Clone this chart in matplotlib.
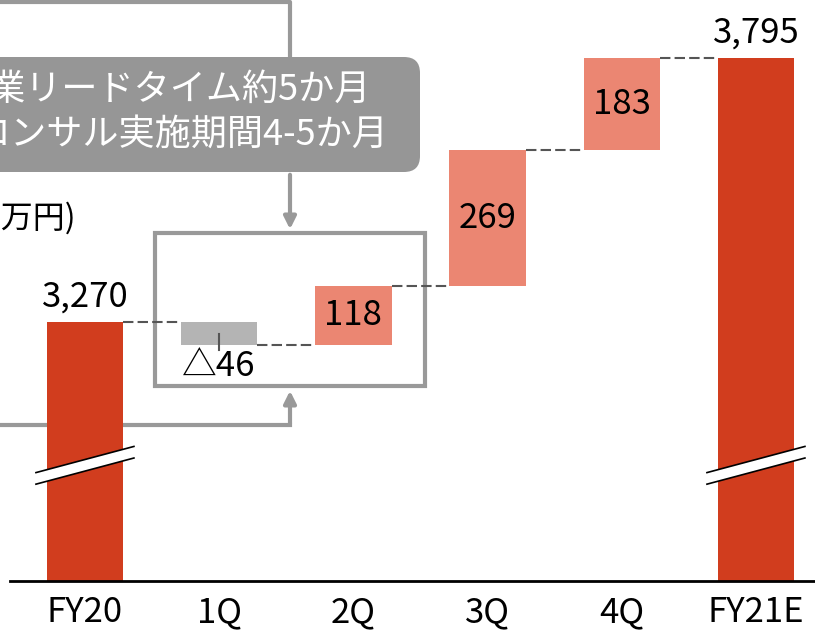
import matplotlib
matplotlib.use("Agg")
import matplotlib.pyplot as plt
from matplotlib.patches import FancyBboxPatch, Rectangle, Polygon

plt.rcParams['font.family'] = ['Noto Sans CJK JP', 'DejaVu Sans']

categories = ["FY20", "1Q", "2Q", "3Q", "4Q", "FY21E"]
start_total = 3270
deltas = [-46, 118, 269, 183]
end_total = 3795
delta_labels = ["△46", "118", "269", "183"]
note_lines = ["営業リードタイム約5か月", "コンサル実施期間4-5か月"]
unit_label = "(万円)"

W, H = 815, 633
RED = "#D13D1E"
SALMON = "#EB8672"
NEG = "#B4B4B4"
FRAME = "#999999"
FS = 25

fig = plt.figure(figsize=(W / 100, H / 100), dpi=100)

# overlay in pixel coordinates for the callout decorations
deco = fig.add_axes([0, 0, 1, 1], zorder=0)
deco.set_xlim(0, W)
deco.set_ylim(H, 0)
deco.axis("off")

ax = fig.add_axes([0, (H - 581) / H, 1, 581 / H], zorder=1)
ax.patch.set_alpha(0)
ax.set_xlim(-0.633, 5.44)
ax.set_ylim(2755, 3910)
for s in ["top", "right", "left"]:
    ax.spines[s].set_visible(False)
ax.spines["bottom"].set_bounds(-0.56, 5.44)
ax.spines["bottom"].set_linewidth(2)
ax.set_yticks([])
ax.set_xticks(range(len(categories)))
ax.set_xticklabels(categories, fontsize=FS)
ax.tick_params(axis="x", length=0, pad=10)

bw = 0.57
base = ax.get_ylim()[0]

# total bars
ax.bar(0, start_total - base, bottom=base, width=bw, color=RED)
ax.bar(5, end_total - base, bottom=base, width=bw, color=RED)

# delta bars
level = start_total
levels = [start_total]
for i, d in enumerate(deltas):
    x = i + 1
    color = NEG if d < 0 else SALMON
    ax.bar(x, abs(d), bottom=min(level, level + d), width=bw, color=color)
    level += d
    levels.append(level)

# dashed connectors between bars
for i, lv in enumerate(levels):
    if i == len(levels) - 1:
        lv = end_total
    ax.plot([i + bw / 2, i + 1 - bw / 2], [lv, lv], color="#555555",
            lw=1.5, ls=(0, (5, 2)), zorder=3)

# labels
ax.annotate(f"{start_total:,}", (0, start_total), xytext=(0, 5),
            textcoords="offset points", ha="center", va="bottom", fontsize=FS)
ax.annotate(f"{end_total:,}", (5, end_total), xytext=(0, 5),
            textcoords="offset points", ha="center", va="bottom", fontsize=FS)
level = start_total
for i, (d, lab) in enumerate(zip(deltas, delta_labels)):
    x = i + 1
    if d < 0:
        bottom = level + d
        ax.plot([x, x], [level + d / 2, bottom - 10], color="#555555", lw=1.5, zorder=3)
        ax.annotate(lab, (x, bottom), xytext=(0, -3), textcoords="offset points",
                    ha="center", va="top", fontsize=FS)
    else:
        ax.text(x, level + d / 2, lab, ha="center", va="center", fontsize=FS)
    level += d

# axis break marks on the total bars
brk_y = 2985
for x in (0, 5):
    hw, dy, gap = 0.365, 52, 23
    pts = [(x - hw, brk_y - dy / 2 + gap / 2), (x + hw, brk_y + dy / 2 + gap / 2),
           (x + hw, brk_y + dy / 2 - gap / 2), (x - hw, brk_y - dy / 2 - gap / 2)]
    ax.add_patch(Polygon(pts, closed=True, facecolor="white", edgecolor="none", zorder=4))
    ax.plot([pts[0][0], pts[1][0]], [pts[0][1], pts[1][1]], color="black", lw=1.2, zorder=5)
    ax.plot([pts[3][0], pts[2][0]], [pts[3][1], pts[2][1]], color="black", lw=1.2, zorder=5)

# callout box, connectors and highlight frame
lw = 3
deco.plot([0, 290, 290], [2, 2, 57], color=FRAME, lw=lw, solid_capstyle="butt")
deco.annotate("", xy=(290, 232), xytext=(290, 172),
              arrowprops=dict(arrowstyle="-|>", color=FRAME, lw=lw, mutation_scale=18))
deco.plot([0, 290], [425, 425], color=FRAME, lw=lw)
deco.annotate("", xy=(290, 388), xytext=(290, 426),
              arrowprops=dict(arrowstyle="-|>", color=FRAME, lw=lw, mutation_scale=18))
deco.add_patch(FancyBboxPatch((-60, 57), 480, 115, boxstyle="round,pad=0,rounding_size=16",
                              facecolor="#969696", edgecolor="none"))
deco.text(371, 90, note_lines[0], ha="right", va="center", color="white", fontsize=FS + 1)
deco.text(388, 135, note_lines[1], ha="right", va="center", color="white", fontsize=FS + 1)
deco.add_patch(Rectangle((155, 233), 270, 153, facecolor="none", edgecolor=FRAME, lw=lw))
deco.text(76, 218, unit_label, ha="right", va="center", fontsize=FS - 2)

fig.savefig("out.png", dpi=100)
